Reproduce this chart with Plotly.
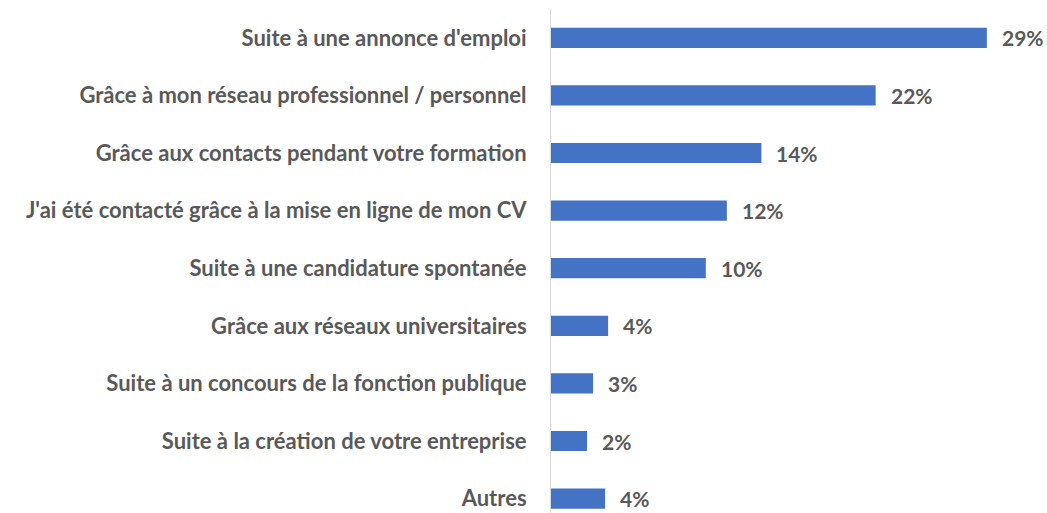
import plotly.graph_objects as go

categories = [
    "Suite à une annonce d'emploi",
    "Grâce à mon réseau professionnel / personnel",
    "Grâce aux contacts pendant votre formation",
    "J'ai été contacté grâce à la mise en ligne de mon CV",
    "Suite à une candidature spontanée",
    "Grâce aux réseaux universitaires",
    "Suite à un concours de la fonction publique",
    "Suite à la création de votre entreprise",
    "Autres",
]
values = [29.0, 21.6, 14.0, 11.7, 10.3, 3.8, 2.8, 2.4, 3.6]
labels = ["29%", "22%", "14%", "12%", "10%", "4%", "3%", "2%", "4%"]

BAR_COLOR = '#4472C4'
TEXT_COLOR = '#595959'
FONT = 'Lato, sans-serif'

fig = go.Figure()
fig.add_trace(go.Bar(
    x=values,
    y=categories,
    orientation='h',
    marker=dict(color=BAR_COLOR, line=dict(width=0)),
    width=0.35,
    hoverinfo='skip',
))

for cat, val, lab in zip(categories, values, labels):
    fig.add_annotation(
        x=val, y=cat, text=f"<b>{lab}</b>",
        xanchor='left', xshift=13, showarrow=False,
        font=dict(family=FONT, size=21, color=TEXT_COLOR),
    )

fig.update_layout(
    width=1047, height=513,
    margin=dict(l=551, r=0, t=9, b=0, pad=0),
    paper_bgcolor='white',
    plot_bgcolor='white',
    showlegend=False,
    font=dict(family=FONT, size=21, color=TEXT_COLOR),
)

fig.update_xaxes(
    range=[0, 33],
    visible=False,
    showgrid=False,
    zeroline=False,
)

fig.update_yaxes(
    range=[8.25, -0.5],
    showgrid=False,
    showline=True,
    linecolor='#d9d9d9',
    linewidth=1,
    ticks='',
    ticklabelstandoff=19,
    tickfont=dict(family=FONT, size=22, color=TEXT_COLOR, weight='bold'),
)

fig.write_html("out.html", config={'displayModeBar': False},
               post_script="document.body.style.margin='0px';")
